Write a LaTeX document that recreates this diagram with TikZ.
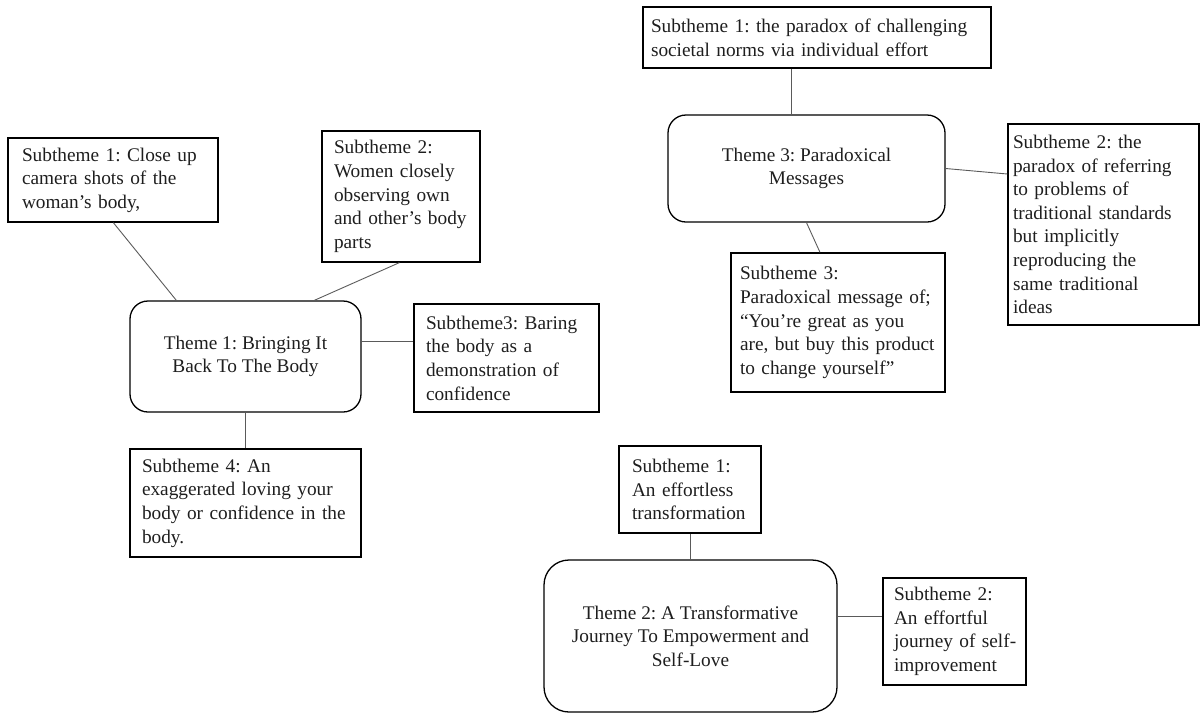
\documentclass[tikz,border=0pt]{standalone}
\usepackage{fontspec}
\setmainfont{Liberation Serif}
\frenchspacing
\definecolor{txt}{HTML}{1E1E1E}
\definecolor{linec}{HTML}{5A5A5A}
\begin{document}
\begin{tikzpicture}[x=1pt,y=-1pt,
  every node/.style={font=\fontsize{19.3}{23.6}\selectfont, text=txt},
  sub/.style={draw=black, line width=1.3pt, rectangle, align=left, inner ysep=0pt},
  theme/.style={draw=black, line width=1.3pt, rectangle, rounded corners=#1, align=center, inner sep=0pt},
  conn/.style={draw=linec, line width=0.9pt}]
\useasboundingbox (0,0) rectangle (1203,713);

% Theme 1 group
\node[sub, minimum width=210pt, minimum height=84pt, text width=182pt, inner xsep=14pt] (s11) at (113,180)
  {Subtheme 1: Close up\\camera shots of the\\woman’s body,};
\node[sub, minimum width=158pt, minimum height=131pt, text width=134pt, inner xsep=12pt] (s12) at (401,196.5)
  {Subtheme 2:\\Women closely\\observing own\\and other’s body\\parts};
\node[theme=18pt, minimum width=231pt, minimum height=111pt] (t1) at (245.5,356.5)
  {Theme 1: Bringing It\\Back To The Body};
\node[sub, minimum width=185pt, minimum height=108pt, text width=161pt, inner xsep=12pt] (s13) at (506.5,358)
  {Subtheme3: Baring\\the body as a\\demonstration of\\confidence};
\node[sub, minimum width=231pt, minimum height=108pt, text width=207pt, inner xsep=12pt] (s14) at (245.5,503)
  {Subtheme 4: An\\exaggerated loving your\\body or confidence in the\\body.};

\draw[conn] ([xshift=106pt]s11.south west) -- ([xshift=47pt]t1.north west);
\draw[conn] ([xshift=78pt]s12.south west) -- ([xshift=185pt]t1.north west);
\draw[conn] ([yshift=15.5pt]t1.east) -- ([yshift=15.5pt]t1.east -| s13.west);
\draw[conn] (t1.south) -- (s14.north);

% Theme 3 group
\node[sub, minimum width=348pt, minimum height=61pt, text width=332pt, inner xsep=8pt] (s31) at (817,37.5)
  {Subtheme 1: the paradox of challenging\\societal norms via individual effort};
\node[theme=18pt, minimum width=277pt, minimum height=107pt] (t3) at (806.5,168.5)
  {Theme 3: Paradoxical\\Messages};
\node[sub, minimum width=191pt, minimum height=201pt, text width=181pt, inner xsep=5pt] (s32) at (1103.5,224.5)
  {Subtheme 2: the\\paradox of referring\\to problems of\\traditional standards\\but implicitly\\reproducing the\\same traditional\\ideas};
\node[sub, minimum width=214pt, minimum height=139pt, text width=196pt, inner xsep=9pt] (s33) at (838,322.5)
  {Subtheme 3:\\Paradoxical message of;\\“You’re great as you\\\mbox{are, but buy this product}\\to change yourself”};

\draw[conn] ([xshift=-26pt]s31.south) -- ([xshift=-26pt]s31.south |- t3.north);
\draw[conn] (t3.east) -- ([yshift=50.5pt]s32.west);
\draw[conn] (t3.south) -- ([xshift=-18pt]s33.north);

% Theme 2 group
\node[sub, minimum width=142pt, minimum height=87pt, text width=116pt, inner xsep=13pt] (s21) at (690,489.5)
  {Subtheme 1:\\An effortless\\\mbox{transformation}};
\node[theme=25pt, minimum width=293pt, minimum height=152pt] (t2) at (690.5,636)
  {Theme 2: A Transformative\\Journey To Empowerment and\\Self-Love};
\node[sub, minimum width=143pt, minimum height=107pt, text width=121pt, inner xsep=11pt] (s22) at (954.5,631.5)
  {Subtheme 2:\\An effortful\\\mbox{journey of self-}\\improvement};

\draw[conn] (s21.south) -- (s21.south |- t2.north);
\draw[conn] ([yshift=20pt]t2.east) -- ([yshift=20pt]t2.east -| s22.west);
\end{tikzpicture}
\end{document}
